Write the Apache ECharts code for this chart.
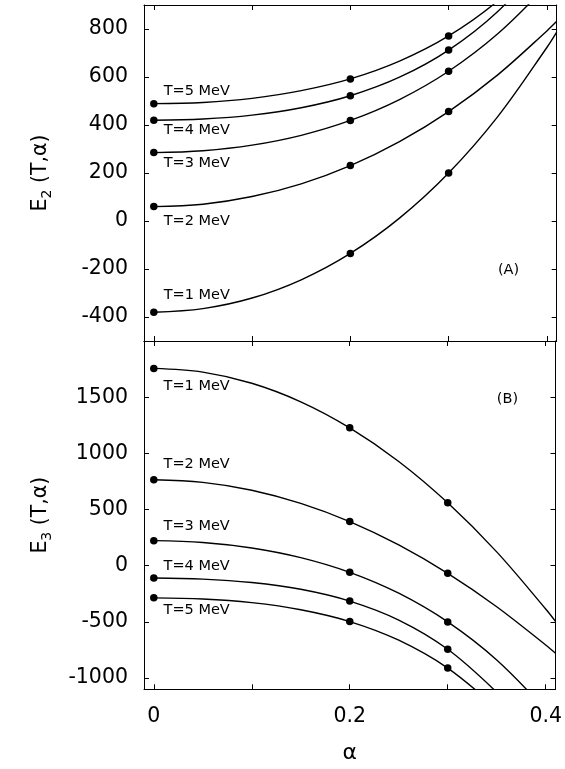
<!DOCTYPE html>
<html>
<head>
<meta charset="utf-8">
<script src="https://cdn.jsdelivr.net/npm/echarts@6/dist/echarts.min.js"></script>
<style>
html,body{margin:0;padding:0;background:#fff;}
#chart{width:565px;height:769px;}
</style>
</head>
<body>
<div id="chart"></div>
<script>
// ---------- data ----------
const alphaGrid = [0, 0.05, 0.1, 0.15, 0.2, 0.25, 0.3, 0.35, 0.4, 0.41];
const seriesNames = ['T=1 MeV', 'T=2 MeV', 'T=3 MeV', 'T=4 MeV', 'T=5 MeV'];

// Panel A: E2(T, alpha) curves
const e2_T1 = [-380, -365, -321, -245, -135, 12, 200, 435, 723, 787];
const e2_T2 = [60, 70, 102, 155, 231, 331, 456, 609, 792, 832];
const e2_T3 = [285, 293, 316, 357, 419, 506, 624, 780, 981];
const e2_T4 = [420, 425, 441, 472, 522, 599, 712, 873, 1095];
const e2_T5 = [489, 494, 511, 543, 592, 666, 771, 917, 1115];

// Panel B: E3(T, alpha) curves
const e3_T1 = [1756, 1723, 1624, 1459, 1227, 928, 560, 123, -385, -495];
const e3_T2 = [765, 742, 672, 555, 393, 185, -68, -365, -706, -779];
const e3_T3 = [223, 207, 158, 72, -59, -245, -500, -839, -1283];
const e3_T4 = [-110, -119, -150, -210, -315, -484, -744, -1126];
const e3_T5 = [-286, -296, -329, -392, -497, -663, -911, -1270];

// computed points (dots)
const alphaDots = [0, 0.2, 0.3];
const e2Dots = [[-380, -135, 200], [60, 231, 456], [285, 419, 624], [420, 522, 712], [489, 592, 771]];
const e3Dots = [[1756, 1227, 560], [765, 393, -68], [223, -59, -500], [-110, -315, -744], [-286, -497, -911]];

// curve labels (data-space anchors)
const e2LabelAlpha = 0.01;
const e2LabelValues = [-308, 0, 240, 379, 539];
const e3LabelAlpha = 0.01;
const e3LabelValues = [1598, 899, 354, -9, -396];
const panelTags = ['(A)', '(B)'];
const panelTagAlpha = 0.361;
const panelTagValues = [-207, 1486];

// axes
const xRange = [-0.01, 0.41];
const xTickLabels = ['0', '0.2', '0.4'];
const e2Range = [-500, 900];
const e3Range = [-1100, 2000];

// ---------- chart ----------
const FONT = 'DejaVu Sans';
const e2Curves = [e2_T1, e2_T2, e2_T3, e2_T4, e2_T5];
const e3Curves = [e3_T1, e3_T2, e3_T3, e3_T4, e3_T5];

function zip(xs, ys) { return ys.map((y, i) => [xs[i], y]); }

const axisLineStyle = { show: true, onZero: false, lineStyle: { color: '#000', width: 1 } };
const tickStyle = { show: true, inside: true, length: 5, lineStyle: { color: '#000', width: 1 } };

function xAxis(gridIndex, position, showLabels) {
  return {
    type: 'value', gridIndex: gridIndex, position: position,
    min: xRange[0], max: xRange[1], splitNumber: 5,
    axisLine: axisLineStyle, axisTick: tickStyle, splitLine: { show: false },
    axisLabel: {
      show: showLabels, margin: 17, fontFamily: FONT, fontSize: 20.5, color: '#000',
      showMinLabel: false, showMaxLabel: false,
      formatter: function (v) {
        const s = xTickLabels.find(t => Math.abs(parseFloat(t) - v) < 1e-9);
        return s === undefined ? '' : s;
      }
    }
  };
}
function yAxis(gridIndex, position, range, split, showLabels, name) {
  const ax = {
    type: 'value', gridIndex: gridIndex, position: position,
    min: range[0], max: range[1], splitNumber: split,
    axisLine: axisLineStyle, axisTick: tickStyle, splitLine: { show: false },
    axisLabel: {
      show: showLabels, margin: 16, fontFamily: FONT, fontSize: 20.5, color: '#000',
      showMinLabel: false, showMaxLabel: false,
      formatter: function (v) { return String(Math.round(v)); }
    }
  };
  if (name) {
    ax.name = name;
    ax.nameLocation = 'middle';
    ax.nameGap = 90;
    ax.nameTextStyle = {
      rich: {
        e: { fontFamily: FONT, fontSize: 20.5, color: '#000', lineHeight: 26 },
        s: { fontFamily: FONT, fontSize: 14, color: '#000', lineHeight: 14, verticalAlign: 'bottom' }
      }
    };
  }
  return ax;
}

const series = [];
function addPanel(idx, curves, dots, labelAlpha, labelValues, tagValue) {
  curves.forEach((c, i) => {
    series.push({
      type: 'line', xAxisIndex: idx * 2, yAxisIndex: idx * 2, clip: true,
      data: zip(alphaGrid, c), smooth: 0.35, showSymbol: false, symbol: 'none',
      lineStyle: { color: '#000', width: 1.4, opacity: 1 }, silent: true, animation: false
    });
  });
  series.push({
    type: 'scatter', xAxisIndex: idx * 2, yAxisIndex: idx * 2,
    data: dots.flatMap(d => zip(alphaDots, d)), symbolSize: 7.5,
    itemStyle: { color: '#000', opacity: 1 }, animation: false, z: 5
  });
  series.push({
    type: 'scatter', xAxisIndex: idx * 2, yAxisIndex: idx * 2,
    data: labelValues.map((v, i) => ({ value: [labelAlpha, v], name: seriesNames[i] })),
    symbolSize: 0, animation: false, itemStyle: { opacity: 1 },
    label: { show: true, position: 'right', distance: 0, formatter: '{b}',
      fontFamily: FONT, fontSize: 14.5, color: '#000', opacity: 1 }
  });
  series.push({
    type: 'scatter', xAxisIndex: idx * 2, yAxisIndex: idx * 2,
    data: [{ value: [panelTagAlpha, tagValue], name: panelTags[idx] }],
    symbolSize: 0, animation: false, itemStyle: { opacity: 1 },
    label: { show: true, position: 'inside', formatter: '{b}',
      fontFamily: FONT, fontSize: 14.5, color: '#000', opacity: 1 }
  });
}
addPanel(0, e2Curves, e2Dots, e2LabelAlpha, e2LabelValues, panelTagValues[0]);
addPanel(1, e3Curves, e3Dots, e3LabelAlpha, e3LabelValues, panelTagValues[1]);

const chart = echarts.init(document.getElementById('chart'), null, { renderer: 'canvas' });
chart.setOption({
  animation: false,
  backgroundColor: '#fff',
  textStyle: { fontFamily: FONT },
  grid: [
    { left: 144, right: 8.3, top: 5, height: 336 },
    { left: 144, right: 8.3, top: 341, height: 348.3 }
  ],
  xAxis: [
    xAxis(0, 'bottom', false),
    xAxis(0, 'top', false),
    Object.assign(xAxis(1, 'bottom', true), {
      name: 'α', nameLocation: 'middle', nameGap: 53,
      nameTextStyle: { fontFamily: FONT, fontSize: 22, color: '#000' }
    }),
    xAxis(1, 'top', false)
  ],
  yAxis: [
    yAxis(0, 'left', e2Range, 7, true, '{e|E}{s|2}{e| (T,α)}'),
    yAxis(0, 'right', e2Range, 7, false),
    yAxis(1, 'left', e3Range, 6, true, '{e|E}{s|3}{e| (T,α)}'),
    yAxis(1, 'right', e3Range, 6, false)
  ],
  series: series
});
</script>
</body>
</html>
